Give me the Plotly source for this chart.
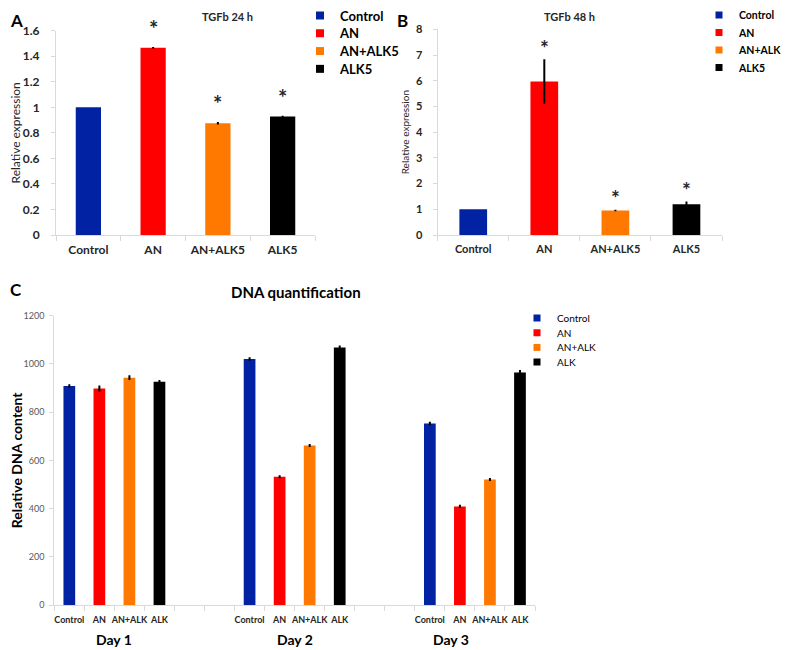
import plotly.graph_objects as go

W, H = 789, 650
OFF = 8  # page body margin of the html page
FW, FH = W - OFF, H - OFF
FONT = "Lato"

# ---------------- data ----------------
groups_ab = ["Control", "AN", "AN+ALK5", "ALK5"]
colors = ["#0022A3", "#FF0000", "#FF7800", "#000000"]

tgf24_vals = [1.0, 1.467, 0.875, 0.928]
tgf24_err = [0.0, 0.006, 0.01, 0.005]
tgf24_sig = [False, True, True, True]

tgf48_vals = [1.0, 5.97, 0.95, 1.2]
tgf48_err = [0.0, 0.87, 0.03, 0.1]
tgf48_sig = [False, True, True, True]

days = ["Day 1", "Day 2", "Day 3"]
treat_c = ["Control", "AN", "AN+ALK", "ALK"]
dna_vals = {
    "Control": [908, 1020, 753],
    "AN": [898, 532, 409],
    "AN+ALK": [943, 662, 521],
    "ALK": [926, 1068, 964],
}
dna_err = {
    "Control": [3, 3, 3],
    "AN": [8, 2, 3],
    "AN+ALK": [6, 2, 2],
    "ALK": [3, 4, 7],
}
day_label_pos = [1.5, 7.5, 12.7]


def px_x(v):
    return (v - OFF) / FW


def px_y(v):
    return 1 - (v - OFF) / FH


fig = go.Figure()

# --- Panel A and B bars ---
for vals, errs, xa, ya in [(tgf24_vals, tgf24_err, "x", "y"), (tgf48_vals, tgf48_err, "x2", "y2")]:
    fig.add_trace(go.Bar(
        x=groups_ab, y=vals, marker=dict(color=colors, line=dict(width=0)),
        error_y=dict(type="data", array=errs, color="#000000", thickness=2, width=0),
        xaxis=xa, yaxis=ya, showlegend=False,
    ))

# --- Panel C bars ---
cats_c = []
for d in range(len(days)):
    for t in treat_c:
        cats_c.append(t + "\u200b" * d)
    if d < len(days) - 1:
        cats_c.append("\u00a0" * (2 * d + 1))
        cats_c.append("\u00a0" * (2 * d + 2))

for t, c in zip(treat_c, colors):
    fig.add_trace(go.Bar(
        x=[t + "\u200b" * d for d in range(len(days))], y=dna_vals[t],
        marker=dict(color=c, line=dict(width=0)),
        error_y=dict(type="data", array=dna_err[t], color="#000000", thickness=2, width=1),
        xaxis="x3", yaxis="y3", showlegend=False,
    ))

# --- legends: one small legend box per entry so the row spacing can follow the original ---
legend_specs = [
    # names, axes, text-left px, first-row centre px, row step px, font size, bold, marker size
    (groups_ab, "x", "y", 340, 15.5, 17.8, 13, True, 8),
    (groups_ab, "x2", "y2", 739, 15, 17.5, 10.5, True, 7),
    (treat_c, "x3", "y3", 557, 318, 14.7, 10, False, 7),
]
legend_layouts = {}
k = 0
for names, xa, ya, tx, y0, step, fs, bold, ms in legend_specs:
    for i, (name, c) in enumerate(zip(names, colors)):
        k += 1
        lid = "legend" if k == 1 else f"legend{k}"
        fig.add_trace(go.Scatter(x=[None], y=[None], mode="markers", name=name,
                                 marker=dict(symbol="square", size=ms, color=c),
                                 xaxis=xa, yaxis=ya, legend=lid))
        legend_layouts[lid] = dict(
            x=px_x(tx - 40), y=px_y(y0 + i * step), xanchor="left", yanchor="middle",
            bgcolor="rgba(0,0,0,0)", borderwidth=0,
            font=dict(family=FONT, size=fs, color="#000000", weight="bold" if bold else "normal"))

axis_line = "#D9D9D9"
bold12 = dict(family=FONT, size=12, color="#262626", weight="bold")
bold11 = dict(family=FONT, size=11, color="#262626", weight="bold")

annotations = []
# significance stars, placed above the error bar tops
for xa, ya, vals, errs, sig, size, shift in [
    ("x", "y", tgf24_vals, tgf24_err, tgf24_sig, 22, 18),
    ("x2", "y2", tgf48_vals, tgf48_err, tgf48_sig, 21, 12),
]:
    for g, v, e, s in zip(groups_ab, vals, errs, sig):
        if not s:
            continue
        annotations.append(dict(x=g, y=v + e, xref=xa, yref=ya, text="*", showarrow=False,
                                yanchor="middle", yshift=shift,
                                font=dict(family=FONT, size=size, color="#262626", weight="bold")))

# titles and panel letters
annotations += [
    dict(x=px_x(200), y=1, xref="paper", yref="paper", text="TGFb 24 h", showarrow=False,
         yanchor="top", font=dict(family=FONT, size=11, color="#262626", weight="bold")),
    dict(x=px_x(597), y=1, xref="paper", yref="paper", text="TGFb 48 h", showarrow=False,
         yanchor="top", font=dict(family=FONT, size=11, color="#262626", weight="bold")),
    dict(x=px_x(296), y=px_y(292), xref="paper", yref="paper", text="DNA quantification", showarrow=False,
         font=dict(family=FONT, size=15, color="#000000", weight="bold")),
    dict(x=0, y=1, xref="paper", yref="paper", text="A", showarrow=False,
         xanchor="left", yanchor="top", font=dict(family=FONT, size=17, color="#000000", weight="bold")),
    dict(x=px_x(402), y=1, xref="paper", yref="paper", text="B", showarrow=False,
         yanchor="top", font=dict(family=FONT, size=17, color="#000000", weight="bold")),
    dict(x=0, y=px_y(290), xref="paper", yref="paper", text="C", showarrow=False,
         xanchor="left", font=dict(family=FONT, size=17, color="#000000", weight="bold")),
]
# day labels
for d, pos in zip(days, day_label_pos):
    annotations.append(dict(x=pos, y=0, xref="x3", yref="paper", text=d, showarrow=False,
                            yanchor="bottom",
                            font=dict(family=FONT, size=14, color="#000000", weight="bold")))

common_x = dict(type="category", categoryorder="array", tickson="boundaries", ticks="outside",
                ticklen=5, tickcolor=axis_line, showline=True, linecolor=axis_line, linewidth=1,
                showgrid=False, tickangle=0, automargin=False)
common_y = dict(showline=True, linecolor=axis_line, ticks="outside", ticklen=4, tickcolor=axis_line,
                showgrid=False, zeroline=False, automargin=False, tick0=0)

fig.update_layout(
    width=FW, height=FH, autosize=False,
    margin=dict(l=0, r=0, t=0, b=0, pad=0, autoexpand=False),
    paper_bgcolor="white", plot_bgcolor="white",
    barmode="overlay", bargap=0.61,
    font=dict(family=FONT, color="#262626"),
    xaxis=dict(common_x, domain=[px_x(56), px_x(315)], categoryarray=groups_ab, tickfont=bold12,
               anchor="y", ticklabelstandoff=4),
    yaxis=dict(common_y, domain=[px_y(235), px_y(30.7)], range=[0, 1.6], dtick=0.2, anchor="x",
               tickfont=bold12, ticklabelstandoff=9,
               title=dict(text="Relative expression", standoff=3,
                          font=dict(family=FONT, size=12, color="#262626"))),
    xaxis2=dict(common_x, domain=[px_x(437.7), px_x(722)], categoryarray=groups_ab, tickfont=bold11,
                anchor="y2", ticklabelstandoff=4),
    yaxis2=dict(common_y, domain=[px_y(235), px_y(29.3)], range=[0, 8], dtick=1, anchor="x2",
                tickfont=bold11, ticklabelstandoff=8,
                title=dict(text="Relative expression", standoff=4,
                           font=dict(family=FONT, size=10, color="#262626"))),
    xaxis3=dict(common_x, domain=[px_x(54.3), px_x(535)], categoryarray=cats_c, anchor="y3",
                tickfont=dict(family=FONT, size=9, color="#262626", weight="bold"), ticklabelstandoff=6),
    yaxis3=dict(common_y, domain=[px_y(605), px_y(315.7)], range=[0, 1200], dtick=200, anchor="x3",
                tickfont=dict(family=FONT, size=9, color="#595959"), ticklabelstandoff=3,
                title=dict(text="Relative DNA content", standoff=6,
                           font=dict(family=FONT, size=14, color="#000000", weight="bold"))),
    annotations=annotations,
    **legend_layouts,
)

fig.write_html("out.html")
